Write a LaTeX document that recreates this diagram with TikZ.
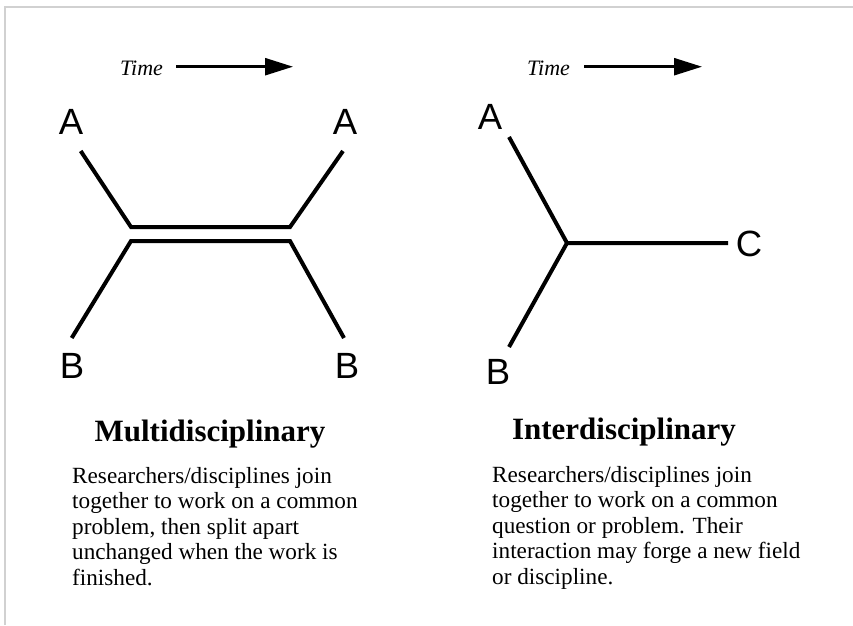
\documentclass[tikz,border=0pt]{standalone}
\usepackage{fontspec}
\setmainfont{Liberation Serif}
\newfontfamily\labelfont{Liberation Sans}
\usetikzlibrary{arrows.meta}

\begin{document}
\begin{tikzpicture}[x=1pt,y=-1pt,
  branch/.style={line width=4pt, line join=miter, line cap=butt},
  letter/.style={font=\labelfont\fontsize{36.5}{36.5}\selectfont, inner sep=0pt},
  timearrow/.style={line width=2.5pt, -{Triangle[length=28pt,width=17pt]}},
  timelabel/.style={font=\itshape\fontsize{22}{22}\selectfont, inner sep=0pt, anchor=base west},
  heading/.style={font=\bfseries\fontsize{31}{31}\selectfont, inner sep=0pt, anchor=base},
  body/.style={font=\fontsize{23.2}{25.5}\selectfont, inner sep=0pt, align=left, anchor=base west}
]
\useasboundingbox (0,0) rectangle (853,625);
% frame on the top and left edges
\draw[line width=2pt, draw=black!18] (5,625) -- (5,6.5) -- (853,6.5);

% ---------- multidisciplinary ----------
\node[timelabel] (t1) at (120,75) {Time};
\coordinate (t1s) at (176,66.7);
\coordinate (t1e) at (293,66.7);
\draw[timearrow] (t1s) -- (t1e);

\node[letter] (mA1) at (71,122) {A};
\node[letter] (mB1) at (72,366) {B};
\node[letter] (mA2) at (345,122) {A};
\node[letter] (mB2) at (347,366) {B};

\coordinate (mA1e) at (80.7,151);
\coordinate (mB1e) at (71.7,338);
\coordinate (mA2e) at (343,151);
\coordinate (mB2e) at (344,338);
\coordinate (jTL) at (131,227);
\coordinate (jTR) at (290,227);
\coordinate (jBL) at (131,241);
\coordinate (jBR) at (290,241);

\draw[branch] (mA1e) -- (jTL) -- (jTR) -- (mA2e);
\draw[branch] (mB1e) -- (jBL) -- (jBR) -- (mB2e);

\node[heading] (mh) at (210,441) {Multidisciplinary};
% the base anchor of a multi-line node sits on its last line
\node[body] (mt) at (72,585) {Researchers/disciplines join\\
together to work on a common\\
problem, then split apart\\
unchanged when the work is\\
finished.};

% ---------- interdisciplinary ----------
\node[timelabel] (t2) at (527,75) {Time};
\coordinate (t2s) at (584,66.7);
\coordinate (t2e) at (702,66.7);
\draw[timearrow] (t2s) -- (t2e);

\node[letter] (iA) at (490,117) {A};
\node[letter] (iB) at (498,372) {B};
\node[letter] (iC) at (749,244) {C};

\coordinate (iAe) at (509,137);
\coordinate (iBe) at (509,347);
\coordinate (iCe) at (728,243);
\coordinate (ij) at (567,243);

\draw[branch] (iAe) -- (ij) -- (iCe);
\draw[branch] (iBe) -- (ij);

\node[heading] (ih) at (624,439) {Interdisciplinary};
\node[body] (it) at (492,584) {Researchers/disciplines join\\
together to work on a common\\
question or problem. Their\\
interaction may forge a new field\\
or discipline.};
\end{tikzpicture}
\end{document}
